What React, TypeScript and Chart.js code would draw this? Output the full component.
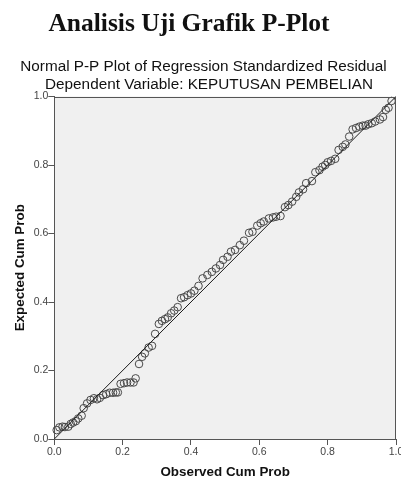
import React, { useEffect, useRef } from "react";
import { Chart, registerables } from "chart.js";

Chart.register(...registerables);

const mainTitle = "Analisis Uji Grafik P-Plot";
const chartTitle = "Normal P-P Plot of Regression Standardized Residual";
const chartSubtitle = "Dependent Variable: KEPUTUSAN PEMBELIAN";
const xAxisTitle = "Observed Cum Prob";
const yAxisTitle = "Expected Cum Prob";
const tickValues = [0, 0.2, 0.4, 0.6, 0.8, 1.0];

const observedCumProb = [
  0.007, 0.015, 0.024, 0.031, 0.041, 0.048, 0.055, 0.063, 0.07, 0.08,
  0.086, 0.096, 0.106, 0.116, 0.125, 0.133, 0.143, 0.152, 0.162, 0.172,
  0.18, 0.186, 0.194, 0.204, 0.213, 0.223, 0.232, 0.238, 0.248, 0.257,
  0.265, 0.276, 0.286, 0.295, 0.306, 0.315, 0.324, 0.332, 0.342, 0.351,
  0.361, 0.371, 0.38, 0.39, 0.4, 0.41, 0.422,
  0.434, 0.448, 0.461, 0.473, 0.485, 0.494, 0.507, 0.517, 0.529, 0.543,
  0.555, 0.57, 0.58, 0.594, 0.604, 0.613, 0.628, 0.64, 0.649, 0.662,
  0.675, 0.685, 0.696, 0.708, 0.716, 0.728, 0.737, 0.754, 0.764, 0.776,
  0.785, 0.793, 0.8, 0.81, 0.822, 0.832, 0.844, 0.852, 0.863, 0.873,
  0.883, 0.893, 0.903, 0.911, 0.919, 0.929, 0.939, 0.953, 0.962, 0.97,
  0.978, 0.987,
];

const expectedCumProb = [
  0.026, 0.034, 0.036, 0.035, 0.036, 0.044, 0.048, 0.052, 0.06, 0.068,
  0.09, 0.104, 0.114, 0.119, 0.116, 0.12, 0.128, 0.131, 0.135, 0.135,
  0.136, 0.136, 0.161, 0.163, 0.165, 0.165, 0.165, 0.177, 0.219, 0.24,
  0.25, 0.267, 0.272, 0.307, 0.336, 0.345, 0.35, 0.355, 0.367, 0.375,
  0.385, 0.411, 0.414, 0.42, 0.425, 0.433, 0.447,
  0.469, 0.479, 0.488, 0.498, 0.508, 0.523, 0.532, 0.547, 0.552, 0.566,
  0.579, 0.602, 0.605, 0.623, 0.63, 0.635, 0.644, 0.647, 0.649, 0.651,
  0.677, 0.683, 0.693, 0.707, 0.72, 0.729, 0.747, 0.753, 0.779, 0.785,
  0.795, 0.8, 0.808, 0.812, 0.818, 0.844, 0.853, 0.86, 0.883, 0.904,
  0.908, 0.912, 0.915, 0.915, 0.919, 0.922, 0.927, 0.933, 0.94, 0.961,
  0.967, 0.987,
];

const refLineX = [0, 1];
const refLineY = [0, 1];

const SANS = "'Liberation Sans', Arial, sans-serif";
const SERIF = "'Liberation Serif', 'Times New Roman', serif";

const decorPlugin = {
  id: "decor",
  beforeDraw(chart: any) {
    const { ctx, chartArea: a } = chart;
    ctx.save();
    ctx.fillStyle = "#f0f0f0";
    ctx.fillRect(a.left, a.top, a.right - a.left, a.bottom - a.top);
    ctx.restore();
  },
  afterDraw(chart: any) {
    const { ctx, chartArea: a } = chart;
    ctx.save();
    ctx.strokeStyle = "#555";
    ctx.lineWidth = 1;
    ctx.beginPath();
    ctx.moveTo(a.left, Math.round(a.top) + 0.5);
    ctx.lineTo(a.right, Math.round(a.top) + 0.5);
    ctx.moveTo(Math.round(a.right) - 0.5, a.top);
    ctx.lineTo(Math.round(a.right) - 0.5, a.bottom);
    ctx.stroke();

    ctx.textAlign = "center";
    ctx.textBaseline = "alphabetic";
    ctx.fillStyle = "#111";
    ctx.font = `bold 25.5px ${SERIF}`;
    ctx.fillText(mainTitle, 189, 30.5);
    ctx.font = `15.3px ${SANS}`;
    ctx.fillText(chartTitle, 203.5, 70.5);
    ctx.fillText(chartSubtitle, 209, 89);
    ctx.restore();
  },
};

export default function App() {
  const ref = useRef<HTMLCanvasElement | null>(null);

  useEffect(() => {
    document.body.style.margin = "0";
    const canvas = ref.current;
    if (!canvas) return;
    const points = observedCumProb.map((x, i) => ({ x, y: expectedCumProb[i] }));
    const line = refLineX.map((x, i) => ({ x, y: refLineY[i] }));

    const chart = new Chart(canvas, {
      type: "scatter",
      data: {
        datasets: [
          {
            data: line,
            showLine: true,
            borderColor: "#1a1a1a",
            borderWidth: 1,
            pointRadius: 0,
            order: 1,
          } as any,
          {
            data: points,
            pointStyle: "circle",
            pointRadius: 3.8,
            pointBorderWidth: 1,
            pointBorderColor: "#4a4a4a",
            pointBackgroundColor: "rgba(0,0,0,0)",
            borderColor: "#4a4a4a",
            backgroundColor: "rgba(0,0,0,0)",
            clip: false,
            order: 2,
          } as any,
        ],
      },
      options: {
        responsive: false,
        animation: false,
        events: [],
        layout: { padding: { top: 96.5, right: 3.3, bottom: 0, left: 0 } },
        plugins: {
          legend: { display: false },
          tooltip: { enabled: false },
          title: { display: false },
        },
        scales: {
          x: {
            type: "linear",
            min: 0,
            max: 1,
            afterBuildTicks: (s: any) => {
              s.ticks = tickValues.map((v) => ({ value: v }));
            },
            afterFit: (s: any) => {
              s.height = 41;
              s.paddingLeft = 0;
              s.paddingRight = 0;
            },
            ticks: {
              callback: (v: any) => Number(v).toFixed(1),
              font: { family: SANS, size: 10.5 },
              color: "#444",
              padding: 1,
              maxRotation: 0,
              autoSkip: false,
            },
            grid: { drawOnChartArea: false, tickLength: 6, color: "#555" },
            border: { display: true, color: "#555", width: 1 },
            title: {
              display: true,
              text: xAxisTitle,
              font: { family: SANS, size: 13.4, weight: "bold" },
              color: "#111",
              padding: { top: 0, bottom: 0 },
            },
          },
          y: {
            type: "linear",
            min: 0,
            max: 1,
            afterBuildTicks: (s: any) => {
              s.ticks = tickValues.map((v) => ({ value: v }));
            },
            afterFit: (s: any) => {
              s.width = 54.3;
              s.paddingTop = 0;
              s.paddingBottom = 0;
            },
            ticks: {
              callback: (v: any) => Number(v).toFixed(1),
              font: { family: SANS, size: 10.5 },
              color: "#444",
              padding: 0,
              autoSkip: false,
            },
            grid: { drawOnChartArea: false, tickLength: 6, color: "#555" },
            border: { display: true, color: "#555", width: 1 },
            title: {
              display: true,
              text: yAxisTitle,
              font: { family: SANS, size: 13.4, weight: "bold" },
              color: "#111",
              padding: { top: 12, bottom: 0 },
            },
          },
        },
      },
      plugins: [decorPlugin],
    });
    return () => chart.destroy();
  }, []);

  return (
    <div style={{ width: 401, height: 480, position: "relative" }}>
      <canvas ref={ref} width={401} height={480} style={{ display: "block" }} />
    </div>
  );
}
